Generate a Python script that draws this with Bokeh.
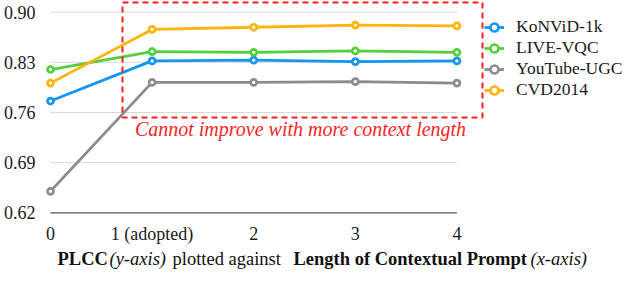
from bokeh.plotting import figure
from bokeh.models import Label, Legend, LegendItem, Range1d, ColumnDataSource
from bokeh.core.properties import value
from bokeh.embed import file_html
from bokeh.resources import INLINE

# ---- data ----
context_len = [0, 1, 2, 3, 4]
x_tick_labels = ["0", "1 (adopted)", "2", "3", "4"]
y_ticks = [0.62, 0.69, 0.76, 0.83, 0.90]
y_tick_labels = ["0.62", "0.69", "0.76", "0.83", "0.90"]
konvid_1k = [0.776, 0.832, 0.833, 0.831, 0.832]
live_vqc = [0.820, 0.845, 0.844, 0.846, 0.844]
youtube_ugc = [0.650, 0.802, 0.802, 0.803, 0.801]
cvd2014 = [0.801, 0.876, 0.879, 0.882, 0.881]
series_names = ["KoNViD-1k", "LIVE-VQC", "YouTube-UGC", "CVD2014"]
series_values = [konvid_1k, live_vqc, youtube_ugc, cvd2014]
series_colors = ["#1196f5", "#55d03a", "#8c8c8c", "#ffb40a"]
note_text = "Cannot improve with more context length"
title_parts = ["PLCC", "(y-axis)", "plotted against", "Length of Contextual Prompt", "(x-axis)"]
title_styles = ["bold", "italic", "normal", "bold", "italic"]

FONT = "Liberation Serif"
W, H = 624, 281
PX_PER_Y = 716.4      # pixels per y unit
PX_PER_X = 101.6      # pixels per x unit
X0_PX = 50            # canvas px of x = 0
Y90_PX = 11.7         # canvas px of y = 0.90

def dx(px):
    return (px - X0_PX) / PX_PER_X

def dy(py):
    return y_ticks[-1] - (py - Y90_PX) / PX_PER_Y

p = figure(width=W, height=H, output_backend="svg", toolbar_location=None,
           x_range=Range1d(dx(0), dx(W)), y_range=Range1d(dy(H), dy(0)),
           min_border_left=0, min_border_right=0, min_border_top=0, min_border_bottom=0)
p.outline_line_color = None
p.grid.visible = False
p.axis.visible = False
p.background_fill_color = "white"
p.border_fill_color = "white"

# gridlines and baseline across the data span
x0, x1 = context_len[0], context_len[-1]
p.segment(x0=[x0] * (len(y_ticks) - 1), x1=[x1] * (len(y_ticks) - 1),
          y0=y_ticks[1:], y1=y_ticks[1:], line_color="#d9d9d9", line_width=1)
p.segment(x0=[x0], x1=[x1], y0=[y_ticks[0]], y1=[y_ticks[0]],
          line_color="#595959", line_width=1.3)

# tick labels
ytick_src = ColumnDataSource(dict(x=[dx(35)] * len(y_ticks), y=y_ticks, t=y_tick_labels))
p.text(x="x", y="y", text="t", source=ytick_src, text_font=value(FONT),
       text_font_size="18px", text_color="#1a1a1a", text_align="right",
       text_baseline="middle")
xtick_src = ColumnDataSource(dict(x=context_len, y=[dy(233)] * len(context_len), t=x_tick_labels))
p.text(x="x", y="y", text="t", source=xtick_src, text_font=value(FONT),
       text_font_size="18px", text_color="#1a1a1a", text_align="center",
       text_baseline="middle")

items = []
for name, vals, col in zip(series_names, series_values, series_colors):
    lr = p.line(context_len, vals, line_color=col, line_width=2.8)
    sr = p.scatter(context_len, vals, marker="circle", size=6, fill_color="white",
                   line_color=col, line_width=2.7)
    items.append(LegendItem(label=name, renderers=[lr, sr]))

# dashed annotation box
p.quad(left=[dx(122)], right=[dx(482)], bottom=[dy(117)], top=[dy(2)],
       fill_color=None, line_color="#ff1f1f", line_width=2, line_dash="6 4")
p.add_layout(Label(x=dx(300), y=dy(128), text=note_text, text_font=FONT,
                   text_font_style="italic", text_font_size="20px",
                   text_color="#ff1f1f", text_align="center", text_baseline="middle"))

legend = Legend(items=items, location=(484, H - 100), padding=0, spacing=0, margin=0,
                glyph_width=20, glyph_height=20, label_height=20, label_standoff=12,
                label_text_font=FONT, label_text_font_size="17.5px",
                label_text_color="#1a1a1a",
                border_line_alpha=0, background_fill_alpha=0)
p.add_layout(legend)

# composite x-axis title
title_px = [57, 109, 172, 293, 530]
for txt, style, px in zip(title_parts, title_styles, title_px):
    p.add_layout(Label(x=dx(px), y=dy(258), text=txt, text_font=FONT,
                       text_font_style=style, text_font_size="18.5px",
                       text_color="#111111", text_align="left", text_baseline="middle"))

open("out.html", "w").write(file_html(p, INLINE))
